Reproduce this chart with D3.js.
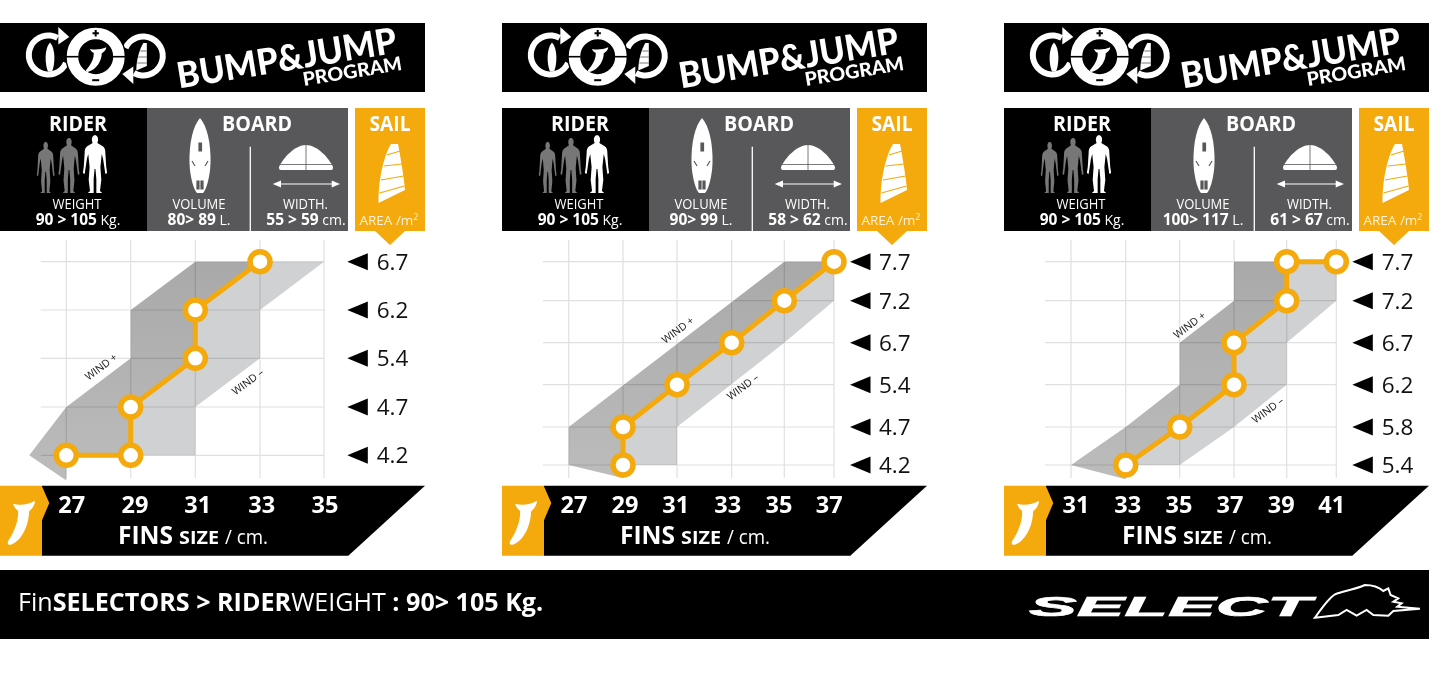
<!DOCTYPE html>
<html><head><meta charset="utf-8">
<script src="https://cdn.jsdelivr.net/npm/d3@7"></script>
<style>html,body{margin:0;padding:0;background:#fff}svg{display:block}text{font-family:"Open Sans",sans-serif}</style>
</head><body><div id="c"></div>
<script>
// ---------- data ----------
const riderWeight = "90 > 105";
const panel1Fins = [27,29,31,33,35];
const panel1Sails = [4.2,4.7,5.4,6.2,6.7];
const panel1Volume = "80> 89", panel1Width = "55 > 59";
const panel1Line = [[27,4.2],[29,4.2],[29,4.7],[31,5.4],[31,6.2],[33,6.7]];
const panel1WindPlus = [[25.85,4.2],[27,3.94],[27,4.2],[29,4.2],[29,4.7],[31,5.4],[31,6.2],[33,6.7],[31,6.7],[29,6.2],[29,5.4],[27,4.7]];
const panel1WindMinus = [[33,6.7],[35,6.7],[33,6.2],[33,5.4],[31,4.7],[31,4.2],[29,4.2],[29,4.7],[31,5.4],[31,6.2]];

const panel2Fins = [27,29,31,33,35,37];
const panel2Sails = [4.2,4.7,5.4,6.7,7.2,7.7];
const panel2Volume = "90> 99", panel2Width = "58 > 62";
const panel2Line = [[29,4.2],[29,4.7],[31,5.4],[33,6.7],[35,7.2],[37,7.7]];
const panel2WindPlus = [[27,4.7],[27,4.2],[29,4.03],[29,4.2],[29,4.7],[31,5.4],[33,6.7],[35,7.2],[37,7.7],[35,7.7]];
const panel2WindMinus = [[37,7.7],[37,7.2],[35,6.7],[31,4.7],[31,4.2],[29,4.2],[29,4.7],[31,5.4],[33,6.7],[35,7.2]];

const panel3Fins = [31,33,35,37,39,41];
const panel3Sails = [5.4,5.8,6.2,6.7,7.2,7.7];
const panel3Volume = "100> 117", panel3Width = "61 > 67";
const panel3Line = [[33,5.4],[35,5.8],[37,6.2],[37,6.7],[39,7.2],[39,7.7],[41,7.7]];
const panel3WindPlus = [[31,5.4],[33,5.25],[33,5.4],[35,5.8],[37,6.2],[37,6.7],[39,7.2],[39,7.7],[37,7.7],[37,7.2],[35,6.7],[35,6.2],[33,5.8]];
const panel3WindMinus = [[39,7.7],[41,7.7],[41,7.2],[39,6.7],[39,6.2],[37,5.8],[35,5.4],[33,5.4],[35,5.8],[37,6.2],[37,6.7],[39,7.2]];

// ---------- layout (pixels, not data) ----------
const W = 1445, H = 678;
const Y5 = [455.3,407,358.3,310,261.7], Y6 = [465,427,384.7,342.7,300.7,261.7];
const layouts = [
 {dx:0,   gridX:[66.3,130.7,195.3,260,324],              gridY:Y5, left:40.7, tickX:[71.7,135,197.7,261.7,325], triX:347.3, labX:376.7,
  plus:[103.3,366.7], minus:[250,381.7]},
 {dx:502, gridX:[568.7,623,677,731.7,784.3,834],         gridY:Y6, left:543, tickX:[574,625,675.7,727.7,779,829.3], triX:850, labX:879,
  plus:[680,330], minus:[745,386.7]},
 {dx:1004,gridX:[1071,1125.7,1179.7,1234,1286.7,1336.3], gridY:Y6, left:1045, tickX:[1076,1127.7,1179,1230,1281.3,1331.7], triX:1352.3, labX:1381.7,
  plus:[1191.7,325], minus:[1270,410]}
];
const panels = [
 {fins:panel1Fins,sails:panel1Sails,line:panel1Line,plus:panel1WindPlus,minus:panel1WindMinus,vol:panel1Volume,wid:panel1Width},
 {fins:panel2Fins,sails:panel2Sails,line:panel2Line,plus:panel2WindPlus,minus:panel2WindMinus,vol:panel2Volume,wid:panel2Width},
 {fins:panel3Fins,sails:panel3Sails,line:panel3Line,plus:panel3WindPlus,minus:panel3WindMinus,vol:panel3Volume,wid:panel3Width}
];
const YEL="#f4a90c", GREY="#58585a";

const svg = d3.select("#c").append("svg").attr("width",W).attr("height",H).attr("viewBox",`0 0 ${W} ${H}`);
const grad = svg.append("defs").append("linearGradient").attr("id","gd").attr("x1",0).attr("y1",1).attr("x2",0).attr("y2",0);
grad.append("stop").attr("offset",0).attr("stop-color","#bcbcbc");
grad.append("stop").attr("offset",1).attr("stop-color","#a9a9a9");

function T(g,x,y,s,size,opt={}){
  const t=g.append("text").attr("x",x).attr("y",y).attr("font-size",size).attr("fill",opt.fill||"#fff")
    .attr("font-weight",opt.weight||400).attr("text-anchor",opt.anchor||"middle").text(s);
  if(opt.len) t.attr("textLength",opt.len).attr("lengthAdjust","spacingAndGlyphs");
  if(opt.family) t.style("font-family",opt.family);
  return t;
}
const humanPath="M-2.6,8C-4,5-4,1 0,0C4,1 4,5 2.6,8L9,11.5C11,13 11.5,15 11.5,18L12.5,32L13.5,38L11.5,39L9,24L7.5,19L6,32L7,45L5.5,56L8,58L1.5,58L1.5,44L.5,34L-.5,34L-1.5,44L-1.5,58L-8,58L-5.5,56L-7,45L-6,32L-7.5,19L-9,24L-11.5,39L-13.5,38L-12.5,32L-11.5,18C-11.5,15-11,13-9,11.5Z";
// fin glyph with its top-left at (0,0): about 28 wide, 44 tall
const finPath="M1,3C8,5 16,4 23,0C23,5 19,9 17,11C17,24 10,40 -1,44C-5,45-5,41-3,39C3,30 7,18 6,10C4,9 2,6 1,3Z";
const ring=d3.arc();

function logo(g){
  const cy=55;
  const arc=ring({innerRadius:16.5,outerRadius:22.5,startAngle:2.0,endAngle:Math.PI*2+0.5});
  // left ring + arrow
  const l=g.append("g").attr("transform",`translate(48.3,${cy})`);
  l.append("path").attr("d",arc).attr("fill","#fff");
  l.append("path").attr("d","M10,-28L21,-18L10,-10.5Z").attr("fill","#fff");
  l.append("path").attr("d","M0,-12.5C6,-6 5,10 2,16.5L-2,16.5C-5,10-6,-6 0,-12.5Z").attr("transform","translate(1.7,0)").attr("fill","#fff");
  // right ring + arrow
  const r=g.append("g").attr("transform",`translate(143.3,${cy+1})`);
  r.append("path").attr("d",arc).attr("fill","#fff").attr("transform","rotate(180)");
  r.append("path").attr("d","M-10,28L-21,18L-10,10.5Z").attr("fill","#fff");
  r.append("path").attr("d","M0,-13L3.5,-13L3.5,10L-7,14.5C-7,4-4,-6 0,-13Z").attr("fill","#fff");
  r.append("path").attr("d","M-3,-5H3.5M-5,1H3.5M-6,7H3.5").attr("stroke","#555").attr("stroke-width",.8);
  // centre ring
  const c=g.append("g").attr("transform",`translate(95.7,56.7)`);
  c.append("circle").attr("r",30.5).attr("fill","#000");
  c.append("circle").attr("r",23.25).attr("fill","none").attr("stroke","#fff").attr("stroke-width",11.5);
  c.append("rect").attr("x",-30).attr("y",-.8).attr("width",13).attr("height",1.6).attr("fill","#000");
  c.append("rect").attr("x",17).attr("y",-.8).attr("width",13).attr("height",1.6).attr("fill","#000");
  c.append("path").attr("d","M-3.2,0H3.2M0,-3.2V3.2").attr("transform","translate(0,-23.5)").attr("stroke","#000").attr("stroke-width",2).attr("fill","none");
  c.append("path").attr("d","M-3.5,0H3.5").attr("transform","translate(0,23.5)").attr("stroke","#000").attr("stroke-width",2);
  c.append("path").attr("d",finPath).attr("transform","translate(-6.5,-9.5) scale(.74,.56)").attr("fill","#fff");
  // title
  T(g,0,0,"BUMP&JUMP",36,{weight:900,anchor:"start",len:222,family:"Lato"}).attr("transform","translate(179,88.5) rotate(-9.3)");
  T(g,0,0,"PROGRAM",19,{weight:900,anchor:"start",len:100,family:"Lato"}).attr("transform","translate(304,86) rotate(-9.3)");
}

panels.forEach((p,i)=>{
  const L=layouts[i], dx=L.dx;
  const x=d3.scaleLinear().domain(p.fins).range(L.gridX);
  const y=d3.scaleLinear().domain(p.sails).range(L.gridY);
  const tick=d3.scaleOrdinal().domain(p.fins).range(L.tickX);
  const g=svg.append("g");
  const line=d3.line().x(d=>x(d[0])).y(d=>y(d[1]));

  // grid
  const grid=g.append("g").attr("stroke","#e0e0e0").attr("stroke-width",1.2);
  grid.selectAll(".v").data(p.fins).join("line").attr("x1",d=>x(d)).attr("x2",d=>x(d)).attr("y1",240).attr("y2",478);
  grid.selectAll(".h").data(p.sails).join("line").attr("x1",L.left).attr("x2",L.gridX[L.gridX.length-1]).attr("y1",d=>y(d)).attr("y2",d=>y(d));

  // wind bands
  g.append("path").attr("d",line(p.minus)+"Z").attr("fill","#cfd1d2").style("mix-blend-mode","multiply");
  g.append("path").attr("d",line(p.plus)+"Z").attr("fill","url(#gd)").style("mix-blend-mode","multiply");

  // recommended line
  g.append("path").attr("d",line(p.line)).attr("fill","none").attr("stroke",YEL).attr("stroke-width",5);
  g.selectAll("circle.pt").data(p.line).join("circle").attr("class","pt").attr("cx",d=>x(d[0])).attr("cy",d=>y(d[1]))
    .attr("r",10).attr("fill","#fff").attr("stroke",YEL).attr("stroke-width",5.5);

  // wind labels
  T(g,0,0,"WIND +",10.5,{fill:"#222"}).attr("transform",`translate(${L.plus[0]},${L.plus[1]+3}) rotate(-37)`);
  T(g,0,0,"WIND –",10.5,{fill:"#222"}).attr("transform",`translate(${L.minus[0]},${L.minus[1]+3}) rotate(-37)`);

  // sail axis
  const sa=g.append("g");
  sa.selectAll("path").data(p.sails).join("path")
    .attr("d",d=>`M${L.triX},${y(d)}l20.5,-8.5v17Z`).attr("fill","#000");
  sa.selectAll("text").data(p.sails).join("text").attr("x",L.labX).attr("y",d=>y(d)+8).attr("font-size",22.5)
    .attr("fill","#111").text(d=>d.toFixed(1));

  // header
  g.append("rect").attr("x",dx).attr("y",23).attr("width",425).attr("height",69).attr("fill","#000");
  logo(g.append("g").attr("transform",`translate(${dx},0)`));

  // info blocks
  const b=g.append("g").attr("transform",`translate(${dx},0)`);
  b.append("rect").attr("y",108).attr("width",147).attr("height",123).attr("fill","#000");
  b.append("rect").attr("x",147).attr("y",108).attr("width",201).attr("height",123).attr("fill",GREY);
  b.append("path").attr("d","M355,108H425V231H405L390,245L375,231H355Z").attr("fill",YEL);
  T(b,78,131,"RIDER",21.5,{weight:700,len:58});
  T(b,257,131,"BOARD",21.5,{weight:700,len:70});
  T(b,390,131,"SAIL",21.5,{weight:700,len:41});
  [[45.7,6.7,.66,"#777"],[69,2.7,.78,"#777"],[95,0,.9,"#fff"]].forEach(h=>{
    b.append("path").attr("d",humanPath).attr("fill",h[3]).attr("transform",`translate(${h[0]},${135+h[1]}) scale(${h[2]},${(58-h[1])/58})`);
  });
  T(b,77,209,"WEIGHT",14,{len:49});
  const w=T(b,78,225,"",15.5,{weight:700}); w.append("tspan").text(riderWeight);
  w.append("tspan").attr("font-weight",400).attr("font-size",14).text(" Kg.");
  // board top view
  b.append("path").attr("d","M0,0C7,8 11,25 10.5,45C10,60 6,72 3,75L-3,75C-6,72-10,60-10.5,45C-11,25-7,8 0,0Z").attr("transform","translate(200,118)").attr("fill","#fff");
  b.append("path").attr("d","M199,143h2.5v8H199ZM192,161l3,5M208,161l-3,5M197,181h2v8h-2ZM201,181h2v8h-2Z").attr("stroke",GREY).attr("stroke-width",1.2).attr("fill",GREY);
  b.append("line").attr("x1",250.3).attr("x2",250.3).attr("y1",146.7).attr("y2",231).attr("stroke","#fff").attr("stroke-width",1.3);
  // board section
  b.append("path").attr("d","M279,167C283,158 295,145 306,145C317,145 329,158 333,167C333,170 332,170 330,170H282C280,170 279,170 279,167Z").attr("fill","#fff");
  b.append("path").attr("d","M279,164.5H333M306,145V170").attr("stroke",GREY).attr("stroke-width",.8).attr("fill","none");
  b.append("path").attr("d","M279,184H334").attr("stroke","#fff").attr("stroke-width",1.2);
  b.append("path").attr("d","M272.7,184L281,180.5V187.5ZM340,184L331.7,180.5V187.5Z").attr("fill","#fff");
  T(b,199,209,"VOLUME",14,{len:53});
  const v=T(b,199,225,"",15.5,{weight:700}); v.append("tspan").text(p.vol);
  v.append("tspan").attr("font-weight",400).attr("font-size",14).text(" L.");
  T(b,305.5,209,"WIDTH.",14,{len:45});
  const wd=T(b,306,225,"",15.5,{weight:700}); wd.append("tspan").text(p.wid);
  wd.append("tspan").attr("font-weight",400).attr("font-size",14).text(" cm.");
  // sail icon
  b.append("path").attr("d","M391,144L398,144C401,160 404,178 405,190L378.5,203C378,180 384,155 391,144Z").attr("fill","#fff");
  b.append("path").attr("d","M387,155L400,151M384,166L402,164M381,180L403.5,176M379.5,193L404.5,186").attr("stroke",YEL).attr("stroke-width",1.2);
  const ar=T(b,389,225,"AREA /m",13.5,{fill:"#fff3d6"}); ar.append("tspan").attr("font-size",9).attr("dy",-5).text("2");

  // fins ribbon
  const r=g.append("g").attr("transform",`translate(${dx},0)`);
  r.append("path").attr("d","M41.7,485.7H425L348.3,555.7H41.7Z").attr("fill","#000");
  r.append("path").attr("d","M0,485.7H41.7L49.3,503L41.7,521V555.7H0Z").attr("fill",YEL);
  r.append("path").attr("d",finPath).attr("transform","translate(12,500.7)").attr("fill","#fff");
  g.selectAll("text.tk").data(p.fins).join("text").attr("class","tk").attr("x",d=>tick(d)).attr("y",512.5)
    .attr("text-anchor","middle").attr("font-size",23.5).attr("font-weight",700).attr("fill","#fff").text(d=>d);
  T(r,118,543.5,"FINS",25,{weight:700,anchor:"start",len:55});
  T(r,179,543.5,"SIZE",18.5,{weight:700,anchor:"start",len:40});
  T(r,225,543.5,"/ cm.",20,{anchor:"start",len:43});
});

// footer
const f=svg.append("g");
f.append("rect").attr("y",570).attr("width",1429).attr("height",69).attr("fill","#000");
const ft=f.append("text").attr("x",18).attr("y",611).attr("font-size",25.1).attr("fill","#fff");
[["Fin",400],["SELECTORS > RIDER",700],["WEIGHT",400],[" : 90> 105 Kg.",700]].forEach(d=>ft.append("tspan").attr("font-weight",d[1]).text(d[0]));
f.append("text").attr("x",1029).attr("y",616).attr("font-size",28).attr("font-weight",700).attr("font-style","italic")
  .style("font-family","Liberation Sans").attr("fill","#fff").attr("stroke","#fff").attr("stroke-width",.7)
  .attr("textLength",282).attr("lengthAdjust","spacingAndGlyphs").text("SELECT");
f.append("path").attr("transform","translate(1000,565) scale(.3333)")
  .attr("d","M945,158C965,130 985,100 1005,88C1030,78 1060,75 1095,60C1115,60 1135,65 1150,78L1165,70L1172,90L1195,100L1180,110L1205,115L1192,125L1260,131L1180,138L1165,152L1120,150L1100,135L1070,152L1040,135L1015,150Z")
  .attr("fill","#000").attr("stroke","#fff").attr("stroke-width",6);
</script></body></html>
